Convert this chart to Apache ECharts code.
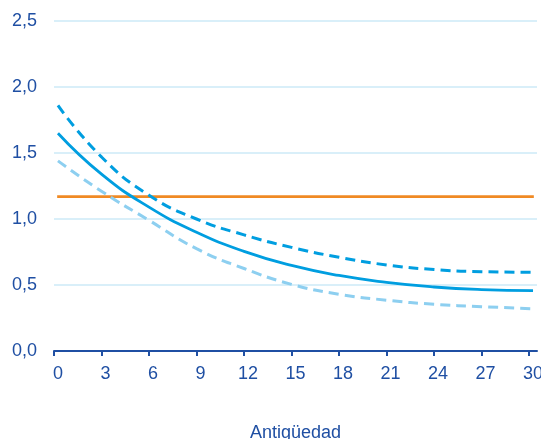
<!DOCTYPE html>
<html><head><meta charset="utf-8">
<script src="https://cdn.jsdelivr.net/npm/echarts@6/dist/echarts.min.js"></script>
<style>html,body{margin:0;padding:0;background:#fff}#c{width:541px;height:439px}</style>
</head><body><div id="c"></div>
<script>
const xValues = [0.25, 3, 6, 9, 12, 15, 18, 21, 24, 27, 30.25];
const central = [1.65, 1.34, 1.09, 0.90, 0.755, 0.648, 0.572, 0.52, 0.485, 0.465, 0.457];
const upper   = [1.86, 1.47, 1.18, 1.00, 0.88, 0.785, 0.71, 0.652, 0.617, 0.601, 0.596];
const lower   = [1.44, 1.21, 0.99, 0.775, 0.625, 0.505, 0.43, 0.385, 0.354, 0.336, 0.32];
const reference = 1.17;
const xTicks = [0, 3, 6, 9, 12, 15, 18, 21, 24, 27, 30];
const xName = 'Antigüedad';

const pair = arr => xValues.map((x, i) => [x, arr[i]]);
const dark = '#1f4fa3';
const font = 'Liberation Sans, Arial, sans-serif';
const chart = echarts.init(document.getElementById('c'));
chart.setOption({
  animation: false,
  grid: {left: 54, right: 4, top: 21, bottom: 88, containLabel: false, outerBoundsMode: 'none'},
  xAxis: {
    type: 'value', min: 0, max: 30.5,
    name: xName, nameLocation: 'middle', nameGap: 73,
    nameTextStyle: {color: dark, fontSize: 18, fontFamily: font},
    axisLine: {show: true, lineStyle: {color: dark, width: 2}},
    axisTick: {show: true, customValues: xTicks, length: 5, lineStyle: {color: dark, width: 2}},
    axisLabel: {customValues: xTicks, color: dark, fontSize: 18, fontFamily: font, margin: 14, padding: [0,0,0,8]},
    splitLine: {show: false}
  },
  yAxis: {
    type: 'value', min: 0, max: 2.5, interval: 0.5,
    axisLine: {show: false}, axisTick: {show: false},
    axisLabel: {color: dark, fontSize: 18, fontFamily: font, margin: 17,
      formatter: v => v.toFixed(1).replace('.', ',')},
    splitLine: {show: true, lineStyle: {color: '#cdeaf7', width: 1.5}}
  },
  series: [
    {type: 'line', data: [[0.2, reference], [30.3, reference]], symbol: 'none',
      lineStyle: {color: '#f08a24', width: 2.8}, z: 2},
    {type: 'line', data: pair(lower), smooth: true, symbol: 'none',
      lineStyle: {color: '#8dcff0', width: 3, type: [10, 6]}, z: 3},
    {type: 'line', data: pair(upper), smooth: true, symbol: 'none',
      lineStyle: {color: '#009ee0', width: 3, type: [10, 6]}, z: 4},
    {type: 'line', data: pair(central), smooth: true, symbol: 'none',
      lineStyle: {color: '#009ee0', width: 2.8}, z: 5}
  ]
});
</script></body></html>
